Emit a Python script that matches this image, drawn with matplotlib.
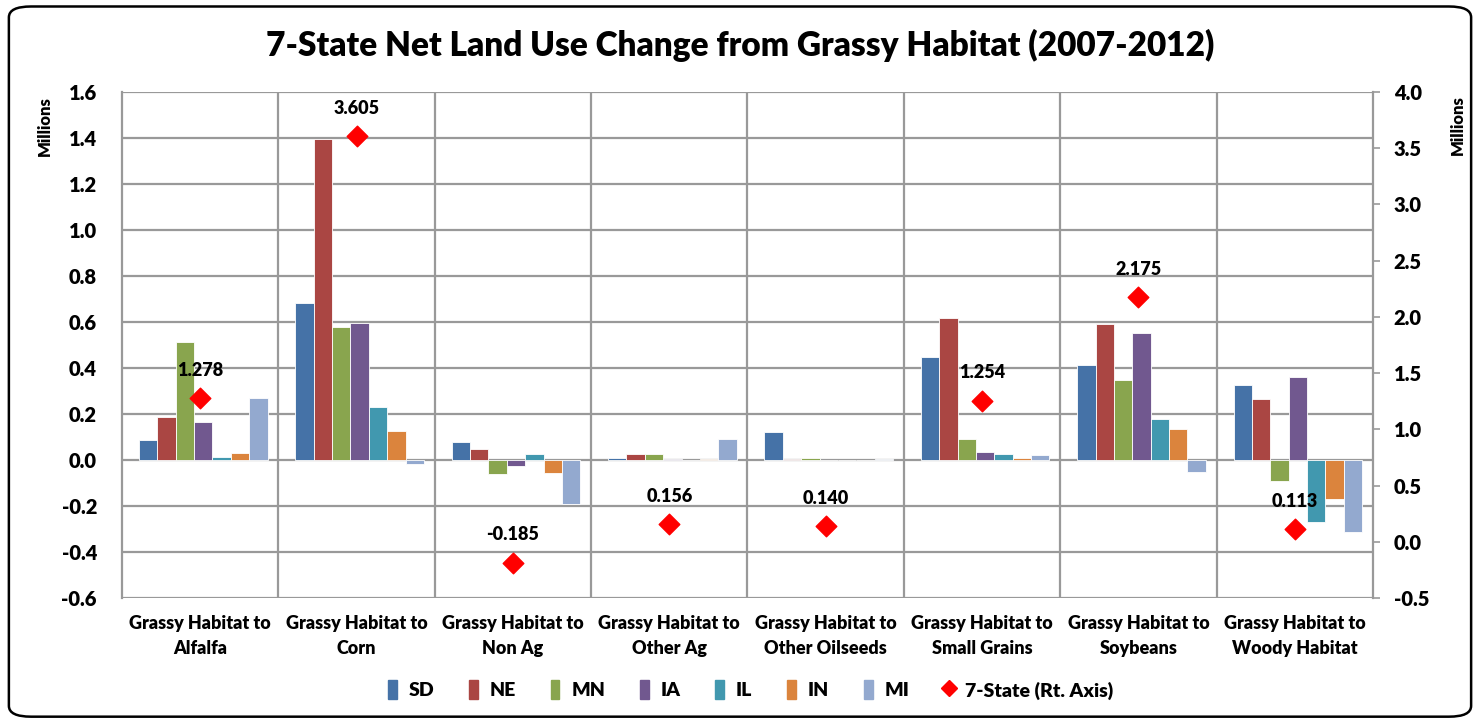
import numpy as np
import matplotlib.pyplot as plt
from matplotlib.patches import FancyBboxPatch
from matplotlib.lines import Line2D

plt.rcParams['font.family'] = ['Lato', 'DejaVu Sans']
plt.rcParams['font.weight'] = 'heavy'

categories = ['Grassy Habitat to\nAlfalfa', 'Grassy Habitat to\nCorn', 'Grassy Habitat to\nNon Ag',
              'Grassy Habitat to\nOther Ag', 'Grassy Habitat to\nOther Oilseeds',
              'Grassy Habitat to\nSmall Grains', 'Grassy Habitat to\nSoybeans',
              'Grassy Habitat to\nWoody Habitat']
states = ['SD', 'NE', 'MN', 'IA', 'IL', 'IN', 'MI']
colors = ['#4572A7', '#AA4643', '#89A54E', '#71588F', '#4198AF', '#DB843D', '#93A9CF']

# millions of acres, one list per state (in category order)
SD = [0.086, 0.681, 0.078, 0.009, 0.123, 0.449, 0.413, 0.324]
NE = [0.187, 1.395, 0.048, 0.026, 0.004, 0.616, 0.593, 0.266]
MN = [0.511, 0.578, -0.060, 0.026, 0.010, 0.091, 0.347, -0.092]
IA = [0.167, 0.597, -0.026, 0.006, 0.000, 0.034, 0.552, 0.363]
IL = [0.015, 0.230, 0.026, 0.001, 0.000, 0.026, 0.180, -0.268]
IN = [0.029, 0.127, -0.056, 0.004, 0.000, 0.009, 0.135, -0.171]
MI = [0.269, -0.019, -0.193, 0.091, 0.004, 0.022, -0.051, -0.312]
seven_state = [1.278, 3.605, -0.185, 0.156, 0.140, 1.254, 2.175, 0.113]

series = [SD, NE, MN, IA, IL, IN, MI]

fig = plt.figure(figsize=(14.8, 7.21), dpi=100)
ax = fig.add_axes([0.0824, 0.1706, 0.8453, 0.7018])
ax2 = ax.twinx()

x = np.arange(len(categories))
w = 0.1175
for j, (vals, c) in enumerate(zip(series, colors)):
    ax.bar(x + (j - 3) * w + 0.02, vals, w, color=c, edgecolor='white', linewidth=0.6,
           label=states[j], zorder=3)

ax.set_xlim(-0.5, 7.5)
ax.set_ylim(-0.6, 1.6)
ax.set_yticks(np.arange(-0.6, 1.61, 0.2))
ax.yaxis.set_major_formatter(plt.FormatStrFormatter('%.1f'))
ax.set_xticks(x)
ax.set_xticklabels(categories, fontsize=13, fontweight='heavy', linespacing=1.6)
ax.set_xticks(np.arange(0.5, 7.5, 1), minor=True)
ax.tick_params(axis='x', which='both', length=0, pad=12)
ax.tick_params(axis='y', labelsize=14.5, length=0, pad=18)
ax.grid(axis='y', which='major', color='#999999', linewidth=1.6, zorder=0)
ax.grid(axis='x', which='minor', color='#999999', linewidth=1.6, zorder=0)
for s in ax.spines.values():
    s.set_visible(False)
ax.spines['left'].set_visible(True)
ax.spines['left'].set_color('#999999')
ax.spines['left'].set_linewidth(1.6)

ax2.set_ylim(-0.5, 4.0)
ax2.set_yticks(np.arange(-0.5, 4.01, 0.5))
ax2.yaxis.set_major_formatter(plt.FormatStrFormatter('%.1f'))
ax2.tick_params(axis='y', labelsize=14.5, length=5, width=1.2, color='#999999', pad=10)
for s in ax2.spines.values():
    s.set_visible(False)
ax2.spines['right'].set_visible(True)
ax2.spines['right'].set_color('#999999')
ax2.spines['right'].set_linewidth(1.6)

ax2.scatter(x, seven_state, marker='D', s=110, color='#FF0000', zorder=5)
for xi, v in zip(x, seven_state):
    ax2.annotate(f'{v:.3f}', (xi, v), xytext=(0, 20), textcoords='offset points',
                 ha='center', va='center', fontsize=13, fontweight='heavy')

fig.text(0.5, 0.937, '7-State Net Land Use Change from Grassy Habitat (2007-2012)',
         ha='center', va='center', fontsize=24, fontweight='heavy')
fig.text(0.030, 0.825, 'Millions', rotation=90, ha='center', va='center',
         fontsize=12, fontweight='heavy')
fig.text(0.985, 0.827, 'Millions', rotation=90, ha='center', va='center',
         fontsize=12, fontweight='heavy')

handles = [plt.Rectangle((0, 0), 1, 1, color=c) for c in colors]
handles.append(Line2D([], [], marker='D', color='#FF0000', linestyle='none', markersize=8))
labels = states + ['7-State (Rt. Axis)']
fig.legend(handles, labels, loc='center', bbox_to_anchor=(0.507, 0.043), ncol=8,
           frameon=False, fontsize=14, handlelength=0.45, handleheight=1.1,
           handletextpad=0.6, columnspacing=1.8)

border = FancyBboxPatch((0.006, 0.006), 0.988, 0.985, boxstyle='round,pad=0,rounding_size=0.015',
                        transform=fig.transFigure, facecolor='none', edgecolor='black',
                        linewidth=1.8)
fig.patches.append(border)

fig.savefig('out.png', dpi=100)
